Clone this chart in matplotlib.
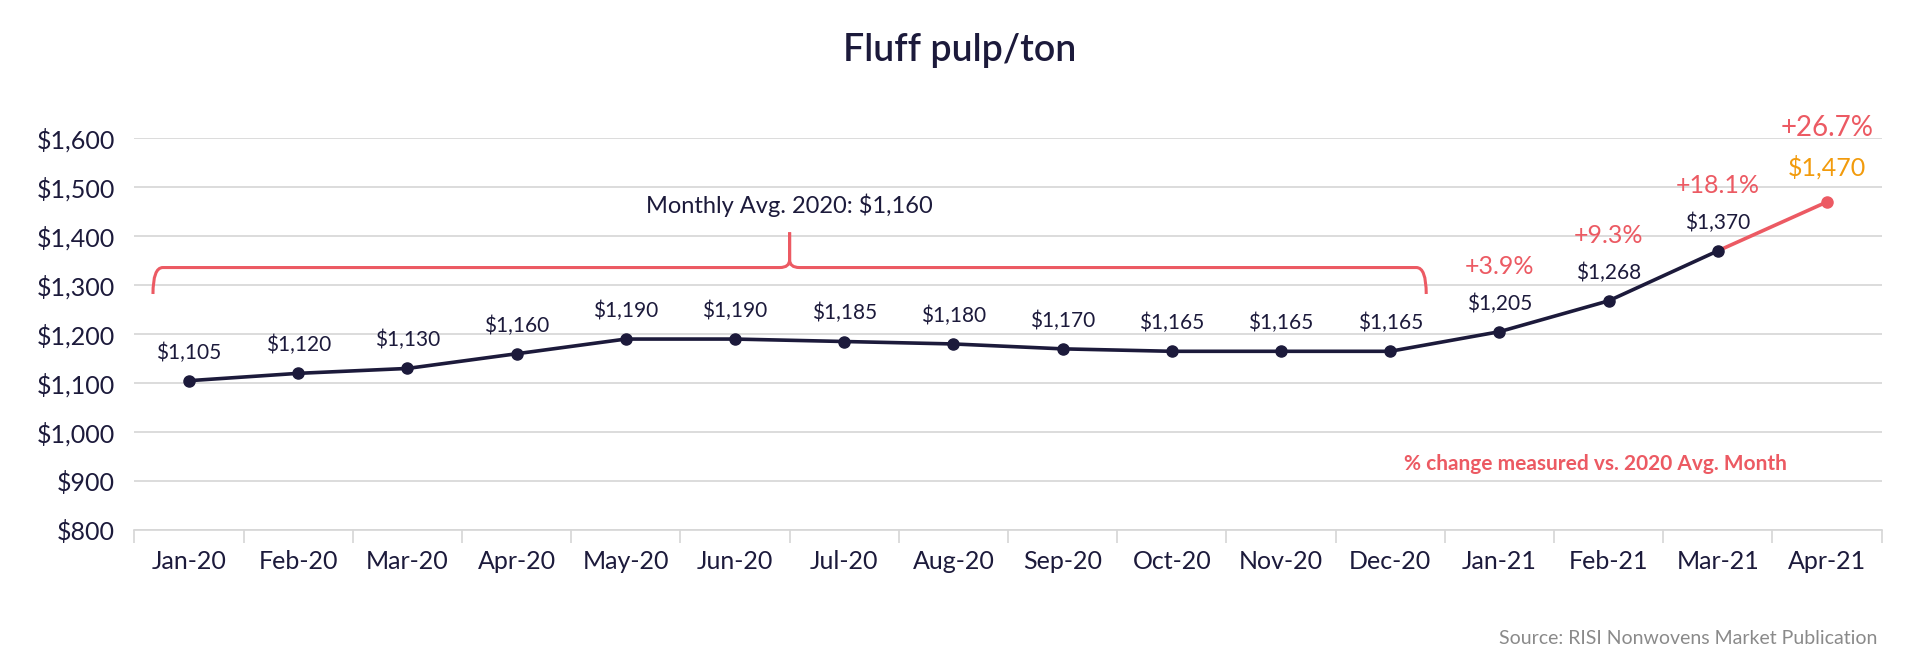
import matplotlib
matplotlib.use("Agg")
import matplotlib.pyplot as plt
from matplotlib.path import Path
from matplotlib.patches import PathPatch

months = ["Jan-20", "Feb-20", "Mar-20", "Apr-20", "May-20", "Jun-20", "Jul-20", "Aug-20",
          "Sep-20", "Oct-20", "Nov-20", "Dec-20", "Jan-21", "Feb-21", "Mar-21", "Apr-21"]
prices = [1105, 1120, 1130, 1160, 1190, 1190, 1185, 1180, 1170, 1165, 1165, 1165,
          1205, 1268, 1370, 1470]
pct_change = {12: "+3.9%", 13: "+9.3%", 14: "+18.1%", 15: "+26.7%"}
avg_2020 = 1160
yticks = [800, 900, 1000, 1100, 1200, 1300, 1400, 1500, 1600]

navy = "#1c1a3b"
coral = "#ec5a63"
orange = "#f29b0c"
grid_gray = "#d6d6d6"

plt.rcParams["font.family"] = ["Lato", "DejaVu Sans"]

fig = plt.figure(figsize=(19.2, 6.71), dpi=100)
ax = fig.add_axes([0.070, 0.210, 0.910, 0.584])

x = list(range(len(months)))
ax.plot(x[:-1], prices[:-1], color=navy, lw=2.6, marker="o", ms=8, zorder=3)
ax.plot(x[-2:], prices[-2:], color=coral, lw=2.6, zorder=2)
ax.plot(x[-1], prices[-1], "o", color=coral, ms=8, zorder=3)

# value labels
for i, v in enumerate(prices):
    if i == len(prices) - 1:
        ax.annotate(f"${v:,}", (i, v), xytext=(0, 16), textcoords="offset points",
                    ha="center", va="bottom", fontsize=18, color=orange)
    else:
        ax.annotate(f"${v:,}", (i, v), xytext=(0, 13), textcoords="offset points",
                    ha="center", va="bottom", fontsize=15, color=navy)

for i, txt in pct_change.items():
    if i == len(prices) - 1:
        ax.annotate(txt, (i, prices[i]), xytext=(0, 44), textcoords="offset points",
                    ha="center", va="bottom", fontsize=20, color=coral)
    else:
        ax.annotate(txt, (i, prices[i]), xytext=(0, 39), textcoords="offset points",
                    ha="center", va="bottom", fontsize=18, color=coral)

# bracket over 2020
x0, x1, xm = -0.33, 11.33, 5.5
yb, ydn, yup = 1336, 1282, 1408
dx, dy = 0.09, 16
for side in (1, -1):
    xs = x0 if side == 1 else x1
    verts = [(xs, ydn), (xs, yb), (xs + side * dx, yb),
             (xm - side * dx, yb), (xm, yb), (xm, yb + dy), (xm, yup)]
    codes = [Path.MOVETO, Path.CURVE3, Path.CURVE3, Path.LINETO,
             Path.CURVE3, Path.CURVE3, Path.LINETO]
    ax.add_patch(PathPatch(Path(verts, codes), fill=False, ec=coral, lw=2.2, zorder=2))
ax.text(xm, 1440, f"Monthly Avg. 2020: ${avg_2020:,}", ha="center", va="bottom",
        fontsize=17, color=navy)

ax.text(12.88, 935, "% change measured vs. 2020 Avg. Month", ha="center", va="center",
        fontsize=15, color=coral, fontweight="bold")

ax.set_xlim(-0.5, len(months) - 0.5)
ax.set_ylim(800, 1600)
ax.set_yticks(yticks)
ax.set_yticklabels([f"${v:,}" for v in yticks])
ax.set_xticks(x)
ax.set_xticklabels(months)
ax.set_xticks([i - 0.5 for i in range(len(months) + 1)], minor=True)
ax.tick_params(axis="x", which="major", length=0, pad=14, labelsize=18, labelcolor=navy)
ax.tick_params(axis="x", which="minor", length=9, width=1.2, color=grid_gray)
ax.tick_params(axis="y", length=0, pad=14, labelsize=18, labelcolor=navy)
ax.grid(axis="y", color=grid_gray, lw=1.2, zorder=0)
ax.set_axisbelow(True)
for s in ["top", "right", "left"]:
    ax.spines[s].set_visible(False)
ax.spines["bottom"].set_color(grid_gray)
ax.spines["bottom"].set_linewidth(1.2)

fig.text(0.5, 0.925, "Fluff pulp/ton", ha="center", va="center", fontsize=27,
         color=navy, fontweight="semibold")
fig.text(0.978, 0.048, "Source: RISI Nonwovens Market Publication", ha="right",
         va="center", fontsize=14, color="#8a8a8a")

fig.savefig("out.png", dpi=100)
